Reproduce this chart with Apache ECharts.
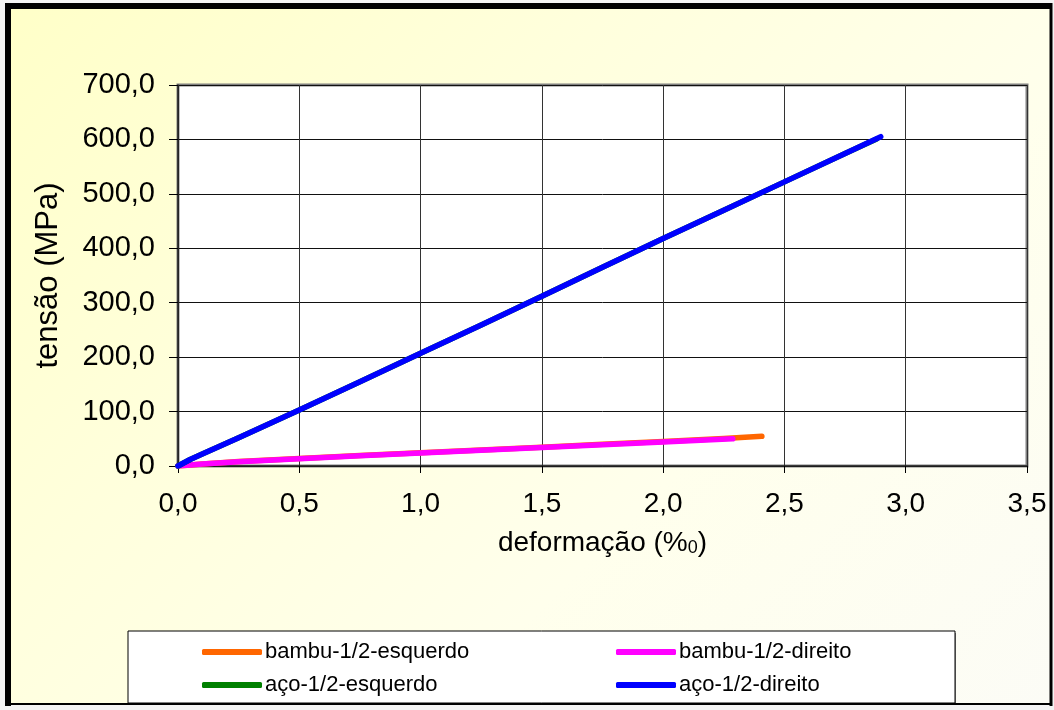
<!DOCTYPE html>
<html>
<head>
<meta charset="utf-8">
<script src="https://cdn.jsdelivr.net/npm/echarts@6/dist/echarts.min.js"></script>
<style>
html,body{margin:0;padding:0;background:#f4f4f4;}
#wrap{position:absolute;left:0;top:0;width:1054px;height:710px;}
#bg{position:absolute;left:8px;top:6px;width:1042px;height:698px;
 background:linear-gradient(135deg,#FFFFC8 0%,#FFFFDD 35%,#FFFFEC 65%,#FCFCF6 100%);}
#chart{position:absolute;left:0;top:0;width:1054px;height:710px;}
</style>
</head>
<body>
<div id="wrap"><div id="bg"></div><div id="chart"></div></div>
<script>
// ---- data ----
const seriesNames = ['bambu-1/2-esquerdo','bambu-1/2-direito','aço-1/2-esquerdo','aço-1/2-direito'];
const seriesColors = ['#FF6600','#FF00FF','#008000','#0000FF'];
const bambuEsquerdo = [[0,0],[0.1,3.5],[0.25,8.2],[0.5,14],[0.75,19.5],[1.0,24.5],[1.25,29.5],[1.5,34.5],[1.75,40],[2.0,45],[2.25,50.5],[2.407,54.5]];
const bambuDireito  = [[0,0],[0.1,3.5],[0.25,8],[0.5,13.5],[0.75,19],[1.0,24],[1.25,29],[1.5,34],[1.75,39],[2.0,44],[2.287,50]];
const acoEsquerdo   = [[0,0],[0.05,12],[0.1,22],[0.25,52],[0.5,103],[0.75,155],[1.0,207],[1.25,259],[1.5,312],[1.75,365],[2.0,418],[2.25,470],[2.5,522],[2.75,574],[2.88,601]];
const acoDireito    = [[0,0],[0.05,12],[0.1,22],[0.25,52],[0.5,103],[0.75,155],[1.0,207],[1.25,259],[1.5,312],[1.75,365],[2.0,418],[2.25,470],[2.5,522],[2.75,574],[2.897,605]];
const xTickMin = 0, xTickMax = 3.5, xTickStep = 0.5;
const yTickMin = 0, yTickMax = 700, yTickStep = 100;
const xTitle = 'deformação (%', xTitleSub = '0';
const yTitle = 'tensão (MPa)';

const seriesData = [bambuEsquerdo, bambuDireito, acoEsquerdo, acoDireito];
const fmt = v => v.toFixed(1).replace('.', ',');
const FONT = '"Liberation Sans", Arial, sans-serif';

const chart = echarts.init(document.getElementById('chart'));
chart.setOption({
  animation: false,
  backgroundColor: 'transparent',
  textStyle: {fontFamily: FONT, color: '#000'},
  grid: {left: 178, right: 27, top: 85, bottom: 244, show: true,
         backgroundColor: '#FFFFFF', borderColor: '#808080', borderWidth: 3},
  xAxis: {
    type: 'value', min: xTickMin, max: xTickMax, interval: xTickStep,
    name: '{a|' + xTitle + '}{s|' + xTitleSub + '}{a|)}',
    nameLocation: 'middle', nameGap: 62,
    nameTextStyle: {rich: {
      a: {fontSize: 28, fontFamily: FONT, color: '#000', lineHeight: 30},
      s: {fontSize: 18, fontFamily: FONT, color: '#000', lineHeight: 30, padding: [10,0,0,0]}
    }},
    axisLine: {show: true, lineStyle: {color: '#222', width: 1.5}},
    axisTick: {show: true, length: 7, lineStyle: {color: '#000', width: 1}},
    axisLabel: {fontSize: 28, fontFamily: FONT, color: '#000', margin: 24, formatter: fmt},
    splitLine: {show: true, lineStyle: {color: '#333', width: 1}}
  },
  yAxis: {
    type: 'value', min: yTickMin, max: yTickMax, interval: yTickStep,
    name: yTitle, nameLocation: 'middle', nameGap: 114, nameRotate: 90,
    nameTextStyle: {fontSize: 31, fontFamily: FONT, color: '#000'},
    axisLine: {show: true, lineStyle: {color: '#222', width: 1.5}},
    axisTick: {show: true, length: 9, lineStyle: {color: '#000', width: 1}},
    axisLabel: {fontSize: 29, fontFamily: FONT, color: '#000', margin: 23, formatter: fmt},
    splitLine: {show: true, lineStyle: {color: '#111', width: 1}}
  },
  legend: [
    {data: [seriesNames[0], seriesNames[2]], orient: 'vertical', left: 197, top: 636,
     itemWidth: 60, itemHeight: 6, itemGap: 11, icon: 'roundRect',
     textStyle: {fontSize: 22, fontFamily: FONT, color: '#000', padding: [0,0,0,-2]}},
    {data: [seriesNames[1], seriesNames[3]], orient: 'vertical', left: 611, top: 636,
     itemWidth: 60, itemHeight: 6, itemGap: 11, icon: 'roundRect',
     textStyle: {fontSize: 22, fontFamily: FONT, color: '#000', padding: [0,0,0,-2]}}
  ],
  graphic: [
    {type: 'rect', z: 1, shape: {x: 130, y: 633, width: 826, height: 71}, style: {fill: '#888'}},
    {type: 'rect', z: 1, shape: {x: 128, y: 631, width: 827, height: 72}, style: {fill: '#fff', stroke: '#000', lineWidth: 1}},
    {type: 'line', z: 50, shape: {x1: 8, y1: 3, x2: 8, y2: 706}, style: {stroke: '#000', lineWidth: 6}},
    {type: 'line', z: 50, shape: {x1: 5, y1: 6, x2: 1052, y2: 6}, style: {stroke: '#000', lineWidth: 6}},
    {type: 'line', z: 50, shape: {x1: 1051, y1: 3, x2: 1051, y2: 706}, style: {stroke: '#000', lineWidth: 3}},
    {type: 'line', z: 50, shape: {x1: 8, y1: 704, x2: 1052, y2: 704}, style: {stroke: '#000', lineWidth: 2}}
  ],
  series: seriesNames.map((n, i) => ({
    name: n, type: 'line', data: seriesData[i], showSymbol: false, symbol: 'none',
    smooth: false, z: 2 + i,
    lineStyle: {color: seriesColors[i], width: 5.5, cap: 'round', join: 'round'},
    itemStyle: {color: seriesColors[i]}
  }))
});
</script>
</body>
</html>
